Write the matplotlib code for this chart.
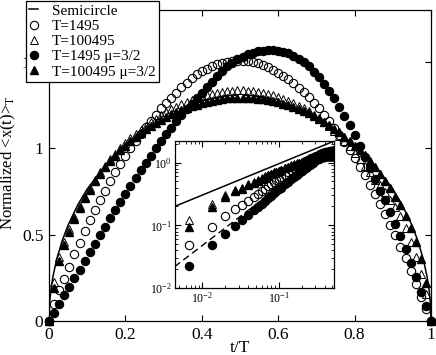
import numpy as np
import matplotlib
matplotlib.use('Agg')
import matplotlib.pyplot as plt

plt.rcParams['font.family'] = 'Liberation Serif'
plt.rcParams['mathtext.fontset'] = 'custom'
plt.rcParams['mathtext.rm'] = 'Liberation Serif'
plt.rcParams['mathtext.it'] = 'Liberation Serif:italic'

# --- data ---
# t/T sampling of the simulation points
t = np.arange(76) / 75

# semicircle curve
semi_t = [0, 0.002, 0.005, 0.01, 0.02, 0.035, 0.05, 0.075, 0.1, 0.15, 0.2, 0.25, 0.3,
          0.35, 0.4, 0.45, 0.5, 0.55, 0.6, 0.65, 0.7, 0.75, 0.8, 0.85, 0.9, 0.925,
          0.95, 0.965, 0.98, 0.99, 0.995, 0.998, 1.0]
semi_y = [0, 0.114, 0.180, 0.253, 0.357, 0.468, 0.555, 0.671, 0.764, 0.909, 1.019,
          1.103, 1.167, 1.215, 1.248, 1.267, 1.273, 1.267, 1.248, 1.215, 1.167, 1.103,
          1.019, 0.909, 0.764, 0.671, 0.555, 0.468, 0.357, 0.253, 0.180, 0.114, 0]

# T=1495 (open circles)
oc = [0, 0.096, 0.18, 0.245, 0.315, 0.385, 0.45, 0.52, 0.585, 0.645,
      0.70, 0.755, 0.81, 0.86, 0.91, 0.955, 1.0, 1.04, 1.08, 1.12,
      1.16, 1.195, 1.23, 1.262, 1.292, 1.32, 1.355, 1.38, 1.405, 1.427,
      1.445, 1.461, 1.475, 1.486, 1.495, 1.501, 1.505, 1.507, 1.506, 1.503,
      1.498, 1.491, 1.482, 1.47, 1.455, 1.438, 1.418, 1.398, 1.375, 1.35,
      1.323, 1.294, 1.263, 1.23, 1.195, 1.158, 1.119, 1.078, 1.035, 0.99,
      0.943, 0.894, 0.843, 0.79, 0.735, 0.678, 0.619, 0.558, 0.495, 0.43,
      0.362, 0.29, 0.215, 0.14, 0.07, 0]

# T=100495 (open triangles)
ot = [0, 0.223, 0.37, 0.46, 0.53, 0.60, 0.665, 0.72, 0.77, 0.815,
      0.86, 0.90, 0.935, 0.968, 1.0, 1.03, 1.057, 1.083, 1.107, 1.13,
      1.152, 1.172, 1.19, 1.208, 1.225, 1.24, 1.254, 1.267, 1.279, 1.29,
      1.30, 1.308, 1.315, 1.321, 1.326, 1.33, 1.333, 1.335, 1.335, 1.334,
      1.331, 1.327, 1.322, 1.315, 1.307, 1.298, 1.287, 1.275, 1.262, 1.247,
      1.231, 1.213, 1.194, 1.173, 1.151, 1.127, 1.101, 1.073, 1.043, 1.011,
      0.975, 0.94, 0.90, 0.86, 0.815, 0.785, 0.745, 0.70, 0.66, 0.61,
      0.54, 0.46, 0.37, 0.27, 0.155, 0]

# T=1495 mu=3/2 (filled circles)
fc = [0, 0.048, 0.098, 0.148, 0.198, 0.248, 0.298, 0.348, 0.398, 0.448,
      0.497, 0.546, 0.595, 0.643, 0.69, 0.737, 0.783, 0.828, 0.872, 0.915,
      0.957, 1.0, 1.04, 1.08, 1.118, 1.155, 1.19, 1.225, 1.258, 1.29,
      1.322, 1.352, 1.381, 1.42, 1.448, 1.473, 1.495, 1.514, 1.53, 1.543,
      1.553, 1.56, 1.565, 1.567, 1.567, 1.565, 1.558, 1.549, 1.536, 1.519,
      1.498, 1.473, 1.444, 1.411, 1.374, 1.333, 1.288, 1.24, 1.188, 1.133,
      1.075, 1.015, 0.952, 0.887, 0.82, 0.751, 0.70, 0.63, 0.56, 0.49,
      0.415, 0.335, 0.255, 0.17, 0.085, 0]

# T=100495 mu=3/2 (filled triangles)
ft = [0, 0.193, 0.35, 0.44, 0.515, 0.59, 0.655, 0.71, 0.76, 0.81,
      0.853, 0.89, 0.925, 0.957, 0.987, 1.015, 1.041, 1.065, 1.088, 1.11,
      1.13, 1.148, 1.165, 1.181, 1.196, 1.209, 1.222, 1.233, 1.244, 1.253,
      1.262, 1.269, 1.275, 1.28, 1.285, 1.288, 1.29, 1.292, 1.293, 1.292,
      1.29, 1.287, 1.283, 1.278, 1.272, 1.265, 1.257, 1.248, 1.238, 1.227,
      1.215, 1.201, 1.186, 1.17, 1.153, 1.134, 1.113, 1.091, 1.067, 1.041,
      1.015, 0.987, 0.958, 0.925, 0.89, 0.853, 0.812, 0.768, 0.72, 0.67,
      0.61, 0.54, 0.46, 0.36, 0.22, 0]

# extra early-time points shown in the inset (finer sampling)
inset_t = [0.00667, 0.02, 0.0333, 0.0467, 0.06, 0.0733, 0.0867, 0.1]
inset_oc = [0.049, 0.14, 0.212, 0.28, 0.35, 0.418, 0.485, 0.553]
inset_ot = [0.122, 0.30, 0.40, 0.49, 0.567, 0.633, 0.695, 0.745]
inset_fc = [0.023, 0.073, 0.123, 0.173, 0.223, 0.273, 0.323, 0.373]
inset_ft = [0.096, 0.283, 0.385, 0.475, 0.555, 0.625, 0.685, 0.737]

# guide lines in the inset
guide_solid_x = [0.0043, 0.534]
guide_solid_y = [0.2, 2.2]
guide_dash_x = [0.0043, 0.2]
guide_dash_y = [0.022, 0.78]

# --- main plot ---
fig = plt.figure(figsize=(4.36, 3.55), dpi=100)
ax = fig.add_axes([49/436, 1 - 321/355, 382/436, 311/355])

ax.plot(semi_t, semi_y, color='black', lw=1.1, label='Semicircle')
ax.plot(t, oc, 'o', mfc='none', mec='black', ms=6, mew=0.8, label='T=1495', clip_on=False)
ax.plot(t, ot, '^', mfc='none', mec='black', ms=5.5, mew=0.7, label='T=100495', clip_on=False)
ax.plot(t, fc, 'o', color='black', ms=5.8, label='T=1495 μ=3/2', clip_on=False)
ax.plot(t, ft, '^', color='black', ms=6, label='T=100495 μ=3/2', clip_on=False)

ax.set_xlim(0, 1)
ax.set_ylim(0, 1.8)
ax.set_xticks([0, 0.2, 0.4, 0.6, 0.8, 1])
ax.set_xticklabels(['0', '0.2', '0.4', '0.6', '0.8', '1'])
ax.set_yticks([0, 0.5, 1, 1.5])
ax.set_yticklabels(['0', '0.5', '1', '1.5'])
ax.tick_params(direction='in', top=True, right=True, length=4.5, width=0.8,
               labelsize=12.5, pad=4)
for s in ax.spines.values():
    s.set_linewidth(0.9)
ax.set_xlabel('t/T', fontsize=12.5, va='top')
ax.xaxis.set_label_coords(0.5, -0.062)
ax.set_ylabel(r'Normalized <x(t)>$_{\mathrm{T}}$', fontsize=12)
ax.yaxis.set_label_coords(-0.08, 0.51)

leg = ax.legend(loc='upper left', bbox_to_anchor=(26/436, 1 - 1/355),
                bbox_transform=fig.transFigure, fontsize=11, fancybox=False,
                edgecolor='black', framealpha=1, borderpad=0.2, borderaxespad=0,
                labelspacing=0.1, handlelength=0.6, handletextpad=0.9)
leg.get_frame().set_linewidth(0.9)

# --- inset ---
axi = fig.add_axes([174.5/436, 1 - 288.3/355, (334.3 - 174.5)/436, (288.3 - 141)/355])
axi.set_xscale('log')
axi.set_yscale('log')
mask = (t > 0) & (t <= 0.534)
axi.plot(guide_solid_x, guide_solid_y, color='black', lw=1.1)
axi.plot(guide_dash_x, guide_dash_y, color='black', lw=1.0, ls=(0, (5, 3)))
axi.plot(t[mask], np.array(oc)[mask], 'o', mfc='none', mec='black', ms=6, mew=0.8)
axi.plot(inset_t, inset_oc, 'o', mfc='none', mec='black', ms=6, mew=0.8)
axi.plot(t[mask], np.array(ot)[mask], '^', mfc='none', mec='black', ms=5.5, mew=0.7)
axi.plot(inset_t, inset_ot, '^', mfc='none', mec='black', ms=5.5, mew=0.7)
axi.plot(t[mask], np.array(fc)[mask], 'o', color='black', ms=5.8)
axi.plot(inset_t, inset_fc, 'o', color='black', ms=5.8)
axi.plot(t[mask], np.array(ft)[mask], '^', color='black', ms=6)
axi.plot(inset_t, inset_ft, '^', color='black', ms=6)
axi.set_xlim(0.0043, 0.534)
axi.set_ylim(0.01, 2.2)
axi.tick_params(which='both', direction='in', top=True, right=True, labelsize=8.5, pad=2)
axi.tick_params(which='major', length=4, width=0.8)
axi.tick_params(which='minor', length=2, width=0.6)
for s in axi.spines.values():
    s.set_linewidth(0.9)

fig.savefig('out.png', dpi=100)
